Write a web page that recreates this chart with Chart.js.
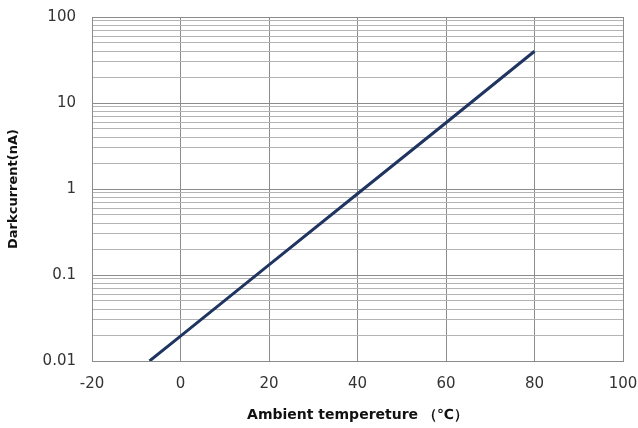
<!DOCTYPE html>
<html>
<head>
<meta charset="utf-8">
<script src="https://cdn.jsdelivr.net/npm/chart.js@4"></script>
<style>
  html, body { margin: 0; padding: 0; background: #fff; }
  #wrap { width: 638px; height: 428px; }
</style>
</head>
<body>
<div id="wrap"><canvas id="chart"></canvas></div>
<script>
// values
const temps = [-7, 0, 20, 40, 60, 80];
const darkCurrent = [0.01, 0.0195, 0.131, 0.88, 5.9, 40];
const xTicks = [-20, 0, 20, 40, 60, 80, 100];
const yDecades = [0.01, 0.1, 1, 10, 100];

// log grid: 1..9 in every decade
const yGrid = [];
yDecades.forEach((d, i) => {
  if (i === yDecades.length - 1) { yGrid.push(d); return; }
  for (let k = 1; k <= 9; k++) yGrid.push(+(d * k).toPrecision(3));
});

const isDecade = v => yDecades.some(d => Math.abs(d - v) < d * 1e-6);

new Chart(document.getElementById('chart').getContext('2d'), {
  type: 'line',
  data: {
    datasets: [{
      data: temps.map((t, i) => ({ x: t, y: darkCurrent[i] })),
      borderColor: '#1f3461',
      borderWidth: 3,
      pointRadius: 0,
      tension: 0,
      fill: false
    }]
  },
  options: {
    responsive: true,
    maintainAspectRatio: false,
    animation: false,
    layout: { padding: { top: 17, right: 15, left: 0, bottom: 0 } },
    plugins: { legend: { display: false }, tooltip: { enabled: false } },
    scales: {
      x: {
        type: 'linear',
        min: -20,
        max: 100,
        afterBuildTicks: s => { s.ticks = xTicks.map(v => ({ value: v })); },
        afterFit: s => { s.height = 67; s.paddingLeft = 0; s.paddingRight = 0; },
        grid: { color: '#8c8c8c', lineWidth: 1, drawTicks: false },
        border: { color: '#8c8c8c' },
        ticks: {
          padding: 14,
          color: '#333',
          font: { family: 'DejaVu Sans', size: 15 }
        },
        title: {
          display: true,
          text: 'Ambient tempereture （℃）',
          color: '#111',
          padding: { top: 6 },
          font: { family: 'DejaVu Sans', size: 14, weight: 'bold' }
        }
      },
      y: {
        type: 'logarithmic',
        min: 0.01,
        max: 100,
        afterBuildTicks: s => { s.ticks = yGrid.map(v => ({ value: v })); },
        afterFit: s => { s.width = 92; s.paddingTop = 0; s.paddingBottom = 0; },
        grid: {
          color: c => isDecade(c.tick.value) ? '#8c8c8c' : '#b4b4b4',
          lineWidth: 1,
          drawTicks: false
        },
        border: { color: '#8c8c8c' },
        ticks: {
          autoSkip: false,
          padding: 16,
          color: '#333',
          font: { family: 'DejaVu Sans', size: 15 },
          callback: v => isDecade(v) ? String(+v.toPrecision(3)) : ''
        },
        title: {
          display: true,
          text: 'Darkcurrent(nA)',
          color: '#111',
          padding: { top: 6, bottom: 4 },
          font: { family: 'DejaVu Sans', size: 13, weight: 'bold' }
        }
      }
    }
  }
});
</script>
</body>
</html>
